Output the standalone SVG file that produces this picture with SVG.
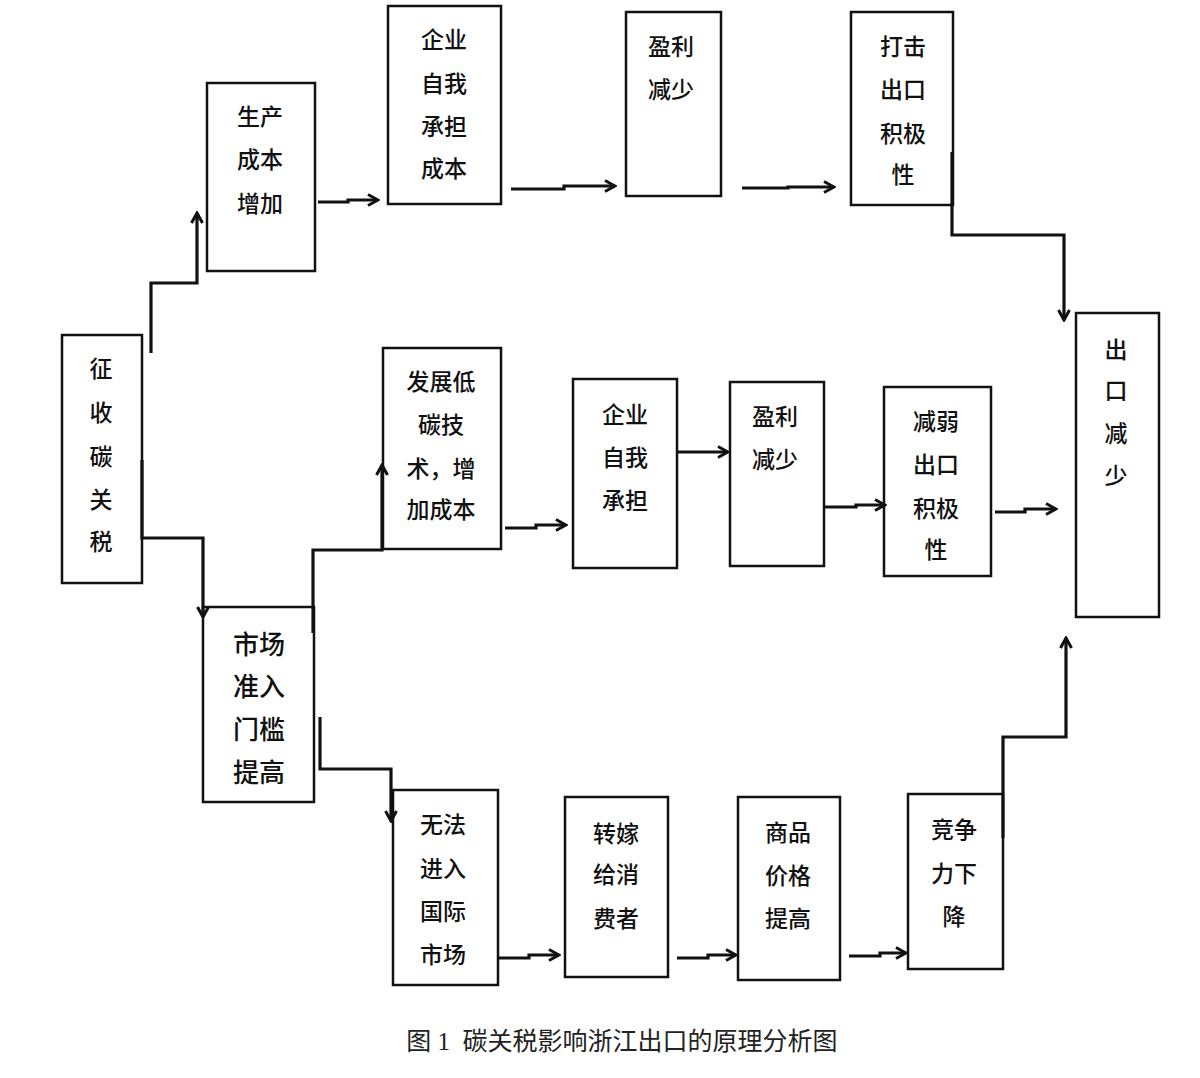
<svg xmlns="http://www.w3.org/2000/svg" width="1200" height="1078" viewBox="0 0 1200 1078">
<defs>
<style>
.box{fill:#fff;stroke:#111;stroke-width:2.5}
.t{font-family:"Noto Sans CJK SC","Noto Sans",sans-serif;font-size:23px;font-weight:500;fill:#111;text-anchor:middle;dominant-baseline:central}
.tl{font-size:26px}
.c{fill:none;stroke:#111;stroke-width:3.2;marker-end:url(#ah)}
.cap{font-family:"Liberation Serif","Noto Sans CJK SC",serif;font-size:25px;fill:#222;text-anchor:middle;dominant-baseline:central}
</style>
<marker id="ah" viewBox="0 0 14 14" refX="12" refY="7" markerWidth="14" markerHeight="14" orient="auto" markerUnits="userSpaceOnUse">
<path d="M2,1.5 L12,7 L2,12.5" fill="none" stroke="#111" stroke-width="3"/>
</marker>
</defs>
<rect width="1200" height="1078" fill="#fff"/>

<g id="n-levy">
<rect class="box" x="62" y="335" width="80" height="248"/>
<text class="t" x="101" y="367">征</text>
<text class="t" x="101" y="411">收</text>
<text class="t" x="101" y="455">碳</text>
<text class="t" x="101" y="498">关</text>
<text class="t" x="101" y="540">税</text>
</g>

<g id="n-cost-up">
<rect class="box" x="207" y="83" width="108" height="188"/>
<text class="t" x="260" y="115">生产</text>
<text class="t" x="260" y="158">成本</text>
<text class="t" x="260" y="202">增加</text>
</g>

<g id="n-self-bear-top">
<rect class="box" x="388" y="6" width="113" height="198"/>
<text class="t" x="444" y="38">企业</text>
<text class="t" x="444" y="82">自我</text>
<text class="t" x="444" y="125">承担</text>
<text class="t" x="444" y="167">成本</text>
</g>

<g id="n-profit-top">
<rect class="box" x="626" y="12" width="95" height="184"/>
<text class="t" x="671" y="45">盈利</text>
<text class="t" x="671" y="88">减少</text>
</g>

<g id="n-hit">
<rect class="box" x="851" y="12" width="102" height="193"/>
<text class="t" x="903" y="45">打击</text>
<text class="t" x="903" y="88">出口</text>
<text class="t" x="903" y="132">积极</text>
<text class="t" x="903" y="173">性</text>
</g>

<g id="n-export-down">
<rect class="box" x="1076" y="313" width="83" height="304"/>
<text class="t" x="1116" y="348">出</text>
<text class="t" x="1116" y="389">口</text>
<text class="t" x="1116" y="432">减</text>
<text class="t" x="1116" y="474">少</text>
</g>

<g id="n-lowcarbon">
<rect class="box" x="383" y="348" width="118" height="201"/>
<text class="t" x="441" y="380">发展低</text>
<text class="t" x="441" y="423">碳技</text>
<text class="t" x="441" y="467">术，增</text>
<text class="t" x="441" y="508">加成本</text>
</g>

<g id="n-self-bear-mid">
<rect class="box" x="573" y="379" width="104" height="189"/>
<text class="t" x="625" y="413">企业</text>
<text class="t" x="625" y="456">自我</text>
<text class="t" x="625" y="499">承担</text>
</g>

<g id="n-profit-mid">
<rect class="box" x="730" y="382" width="94" height="184"/>
<text class="t" x="775" y="415">盈利</text>
<text class="t" x="775" y="458">减少</text>
</g>

<g id="n-weaken">
<rect class="box" x="884" y="387" width="107" height="189"/>
<text class="t" x="936" y="420">减弱</text>
<text class="t" x="936" y="463">出口</text>
<text class="t" x="936" y="507">积极</text>
<text class="t" x="936" y="548">性</text>
</g>

<g id="n-threshold">
<rect class="box" x="203" y="607" width="111" height="195"/>
<text class="t tl" x="259" y="642">市场</text>
<text class="t tl" x="259" y="684">准入</text>
<text class="t tl" x="259" y="727">门槛</text>
<text class="t tl" x="259" y="770">提高</text>
</g>

<g id="n-no-entry">
<rect class="box" x="393" y="790" width="105" height="195"/>
<text class="t" x="443" y="823">无法</text>
<text class="t" x="443" y="867">进入</text>
<text class="t" x="443" y="910">国际</text>
<text class="t" x="443" y="953">市场</text>
</g>

<g id="n-pass-on">
<rect class="box" x="565" y="797" width="103" height="180"/>
<text class="t" x="616" y="832">转嫁</text>
<text class="t" x="616" y="873">给消</text>
<text class="t" x="616" y="917">费者</text>
</g>

<g id="n-price-up">
<rect class="box" x="738" y="797" width="102" height="183"/>
<text class="t" x="788" y="831">商品</text>
<text class="t" x="788" y="874">价格</text>
<text class="t" x="788" y="917">提高</text>
</g>

<g id="n-compete">
<rect class="box" x="908" y="794" width="95" height="175"/>
<text class="t" x="954" y="828">竞争</text>
<text class="t" x="954" y="872">力下</text>
<text class="t" x="954" y="915">降</text>
</g>

<g id="connectors">
<path class="c" d="M151,353 V283 H197 V213"/>
<path class="c" d="M318,202 H348 V200 H378"/>
<path class="c" d="M511,189 H564 V186 H615"/>
<path class="c" d="M742,188 H788 V187 H834"/>
<path class="c" d="M952,152 V235 H1064 V320"/>
<path class="c" d="M142,460 V538 H203 V617"/>
<path class="c" d="M313,633 V550 H382 V465"/>
<path class="c" d="M505,528 H536 V525 H566"/>
<path class="c" d="M677,452 H728"/>
<path class="c" d="M824,507 H856 V505 H885"/>
<path class="c" d="M995,512 H1025 V509 H1056"/>
<path class="c" d="M320,717 V769 H391 V821"/>
<path class="c" d="M499,958 H529 V955 H559"/>
<path class="c" d="M677,958 H708 V955 H736"/>
<path class="c" d="M849,956 H880 V953 H906"/>
<path class="c" d="M1003,838 V737 H1066 V638"/>
</g>

<text class="cap" x="622" y="1041" xml:space="preserve">图 1  碳关税影响浙江出口的原理分析图</text>
</svg>
